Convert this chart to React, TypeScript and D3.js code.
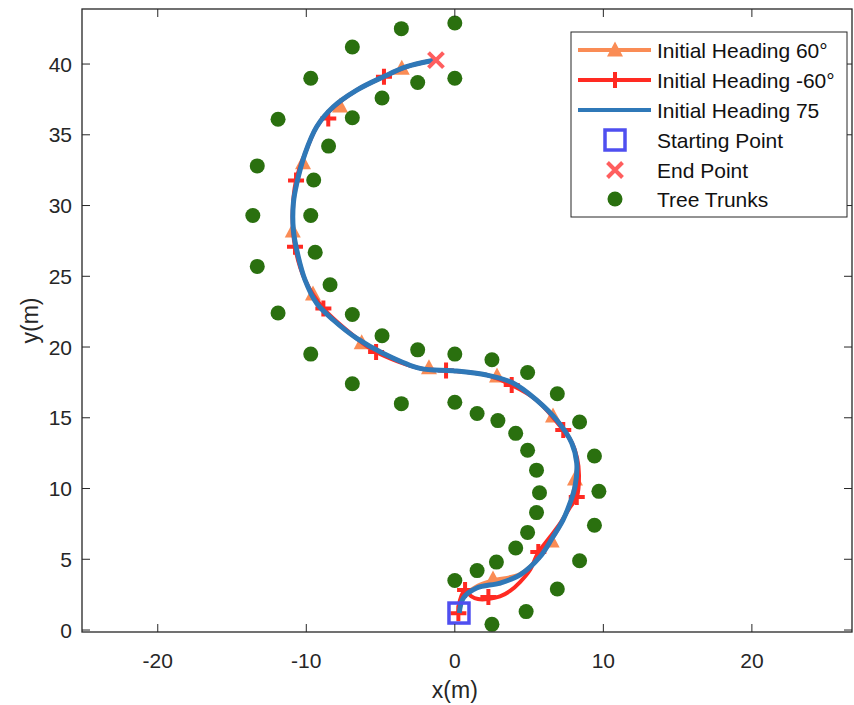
import React from "react";
import * as d3 from "d3";

type P = [number, number];

const blueHeading75: P[] = [
  [0.3, 1.2], [0.57, 2.26], [1.47, 2.97], [3.04, 3.32], [4.39, 3.89], [5.74, 5.18], [6.61, 6.59],
  [7.28, 7.77], [7.76, 8.98], [8.09, 10.13], [8.21, 11.8], [7.87, 13.22], [6.86, 14.84], [5.51, 16.25],
  [3.92, 17.46], [2.15, 18.02], [-0.12, 18.33], [-2.34, 18.49], [-4.81, 19.55], [-6.6, 20.61],
  [-8.18, 21.91], [-9.3, 23.09], [-10.08, 24.73], [-10.54, 26.38], [-10.87, 28.27], [-10.87, 30.16],
  [-10.64, 31.57], [-10.08, 33.69], [-9.3, 35.57], [-8.18, 36.98], [-6.6, 38.16], [-4.81, 39.1],
  [-3.24, 39.81], [-1.56, 40.23], [-1.27, 40.28],
];

const redHeadingMinus60: P[] = [
  [0.24, 1.2], [0.35, 2.12], [0.69, 2.83], [1.09, 2.4], [1.56, 2.19], [2.24, 2.19], [3.04, 2.37],
  [3.72, 2.76], [4.39, 3.39], [5.06, 4.24], [5.6, 5.44], [6.41, 6.57], [7.15, 7.63], [7.76, 8.69],
  [8.21, 9.4], [8.36, 10.95], [8.23, 12.16], [7.89, 13.22], [7.3, 14.13], [5.51, 16.25], [3.83, 17.31],
  [2.15, 18.02], [-0.59, 18.34], [-2.34, 18.49], [-5.3, 19.65], [-6.6, 20.61], [-8.85, 22.73],
  [-10.08, 24.73], [-10.76, 27.09], [-10.92, 29.33], [-10.69, 31.77], [-10.08, 33.69], [-9.3, 35.57],
  [-8.52, 36.6], [-6.6, 38.16], [-4.77, 39.1], [-3.24, 39.81], [-1.27, 40.28],
];
const redMarkers: P[] = [
  [0.24, 1.18], [0.69, 2.83], [2.26, 2.33], [5.62, 5.51], [8.21, 9.4], [7.3, 14.13], [3.83, 17.31],
  [-0.59, 18.34], [-5.3, 19.65], [-8.85, 22.73], [-10.76, 27.09], [-10.69, 31.77], [-8.52, 36.16],
  [-4.77, 39.1],
];

const orangeHeading60: P[] = [
  [0.3, 1.2], [0.55, 2.3], [1.4, 3.05], [2.57, 3.5], [4.39, 3.95], [5.74, 5.2], [6.61, 6.55],
  [7.28, 7.77], [7.76, 8.98], [8.09, 10.3], [8.21, 11.8], [7.87, 13.22], [6.86, 14.84], [5.51, 16.25],
  [3.92, 17.46], [2.15, 18.02], [-0.12, 18.33], [-2.34, 18.49], [-4.81, 19.55], [-6.6, 20.61],
  [-8.18, 21.91], [-9.3, 23.09], [-10.08, 24.73], [-10.54, 26.38], [-10.87, 28.27], [-10.87, 30.16],
  [-10.64, 31.57], [-10.08, 33.69], [-9.3, 35.57], [-8.18, 36.98], [-6.6, 38.16], [-4.81, 39.1],
  [-3.24, 39.81], [-1.56, 40.23], [-1.27, 40.28],
];
const orangeMarkers: P[] = [
  [2.57, 3.67], [6.52, 6.36], [8.09, 10.74], [6.61, 15.19], [2.84, 18.02], [-1.74, 18.61],
  [-6.27, 20.37], [-9.55, 23.82], [-10.91, 28.27], [-10.22, 33.1], [-7.73, 37.1], [-3.57, 39.77],
];

const startPoint: P = [0.28, 1.2];
const endPoint: P = [-1.27, 40.28];

const treeTrunks: P[] = [
  [0, 42.9], [-3.6, 42.5], [-6.9, 41.2], [-9.7, 39.0], [0, 39.0], [-2.5, 38.7], [-4.9, 37.6],
  [-11.9, 36.1], [-6.9, 36.2], [-8.5, 34.2], [-13.3, 32.8], [-9.5, 31.8], [-13.6, 29.3], [-9.7, 29.3],
  [-9.4, 26.7], [-13.3, 25.7], [-8.4, 24.4], [-11.9, 22.4], [-6.9, 22.3], [-4.9, 20.8], [-9.7, 19.5],
  [-2.5, 19.8], [0, 19.5], [2.5, 19.1], [-6.9, 17.4], [-3.6, 16.0], [4.9, 18.2], [6.9, 16.7],
  [8.4, 14.7], [9.4, 12.3], [9.7, 9.8], [9.4, 7.4], [8.4, 4.9], [6.9, 2.9], [4.8, 1.3], [2.5, 0.4],
  [0, 16.1], [1.5, 15.3], [2.9, 14.8], [4.1, 13.9], [4.9, 12.7], [5.5, 11.3], [5.7, 9.7], [5.5, 8.3],
  [4.9, 6.9], [4.1, 5.8], [2.8, 4.8], [1.5, 4.2], [0, 3.5],
];

const xTicks = [-20, -10, 0, 10, 20];
const yTicks = [0, 5, 10, 15, 20, 25, 30, 35, 40];
const legendLabels = [
  "Initial Heading 60°", "Initial Heading -60°", "Initial Heading 75",
  "Starting Point", "End Point", "Tree Trunks",
];

const C_ORANGE = "#FA8C55";
const C_RED = "#FF2A22";
const C_BLUE = "#2F78B8";
const C_SQUARE = "#4F4FF0";
const C_X = "#FF5E5E";
const C_GREEN = "#2A700F";
const C_AXIS = "#262626";
const FONT = "'Liberation Sans', Arial, sans-serif";

const L = 82, R = 852, T = 9, B = 632;

export default function App() {
  const x = d3.scaleLinear().domain([-25.1, 26.74]).range([L, R]);
  const y = d3.scaleLinear().domain([-0.14, 43.89]).range([B, T]);
  const line = d3.line<P>().x((d) => x(d[0])).y((d) => y(d[1])).curve(d3.curveCatmullRom.alpha(0.5));

  const tri = (cx: number, cy: number, k = 1) => {
    const w = 8 * k, h = 7.5 * k;
    return `M${cx},${cy - h}L${cx + w},${cy + h}L${cx - w},${cy + h}Z`;
  };
  const plus = (cx: number, cy: number, s = 8) => `M${cx - s},${cy}H${cx + s}M${cx},${cy - s}V${cy + s}`;
  const cross = (cx: number, cy: number, s = 7.5) =>
    `M${cx - s},${cy - s}L${cx + s},${cy + s}M${cx - s},${cy + s}L${cx + s},${cy - s}`;

  const legRows = [50, 80, 110, 140, 170, 199];
  const lx0 = 578, lx1 = 651, lmx = 615, ltx = 657;

  return (
    <svg width={854} height={705} style={{ position: "absolute", left: 0, top: 0, background: "#fff" }}
      fontFamily={FONT}>
      <rect x={0} y={0} width={854} height={705} fill="#fff" />
      <defs>
        <clipPath id="plotclip"><rect x={L} y={T} width={R - L} height={B - T} /></clipPath>
      </defs>
      <g clipPath="url(#plotclip)">
        <path d={line(orangeHeading60) || ""} fill="none" stroke={C_ORANGE} strokeWidth={4} />
        {orangeMarkers.map((d, i) => (
          <path key={"o" + i} d={tri(x(d[0]), y(d[1]))} fill={C_ORANGE} />
        ))}
        <path d={line(redHeadingMinus60) || ""} fill="none" stroke={C_RED} strokeWidth={4} />
        {redMarkers.map((d, i) => (
          <path key={"r" + i} d={plus(x(d[0]), y(d[1]))} stroke={C_RED} strokeWidth={4} fill="none" />
        ))}
        <path d={line(blueHeading75) || ""} fill="none" stroke={C_BLUE} strokeWidth={5} />
        <rect x={x(startPoint[0]) - 10} y={y(startPoint[1]) - 10} width={20} height={20} fill="none"
          stroke={C_SQUARE} strokeWidth={3.5} />
        <path d={cross(x(endPoint[0]), y(endPoint[1]))} stroke={C_X} strokeWidth={4} fill="none" />
        {treeTrunks.map((d, i) => (
          <circle key={"t" + i} cx={x(d[0])} cy={y(d[1])} r={7.5} fill={C_GREEN} />
        ))}
      </g>

      {/* axes box */}
      <rect x={L} y={T} width={R - L} height={B - T} fill="none" stroke={C_AXIS} strokeWidth={1.3} />
      {xTicks.map((t) => (
        <g key={"xt" + t}>
          <line x1={x(t)} x2={x(t)} y1={B} y2={B - 8} stroke={C_AXIS} strokeWidth={1} />
          <line x1={x(t)} x2={x(t)} y1={T} y2={T + 8} stroke={C_AXIS} strokeWidth={1} />
          <text x={x(t)} y={667.5} textAnchor="middle" fontSize={21} fill={C_AXIS}>{t}</text>
        </g>
      ))}
      {yTicks.map((t) => (
        <g key={"yt" + t}>
          <line x1={L} x2={L + 8} y1={y(t)} y2={y(t)} stroke={C_AXIS} strokeWidth={1} />
          <line x1={R} x2={R - 8} y1={y(t)} y2={y(t)} stroke={C_AXIS} strokeWidth={1} />
          <text x={L - 10} y={y(t)} dy="0.36em" textAnchor="end" fontSize={21} fill={C_AXIS}>{t}</text>
        </g>
      ))}
      <text x={x(0)} y={698} textAnchor="middle" fontSize={23} fill={C_AXIS}>x(m)</text>
      <text transform={`translate(38,${(T + B) / 2}) rotate(-90)`} textAnchor="middle" fontSize={23}
        fill={C_AXIS}>y(m)</text>

      {/* legend */}
      <rect x={571} y={32} width={276} height={185} fill="#fff" stroke={C_AXIS} strokeWidth={1} />
      <line x1={lx0} x2={lx1} y1={legRows[0]} y2={legRows[0]} stroke={C_ORANGE} strokeWidth={4} />
      <path d={tri(lmx, legRows[0] - 1)} fill={C_ORANGE} />
      <line x1={lx0} x2={lx1} y1={legRows[1]} y2={legRows[1]} stroke={C_RED} strokeWidth={4} />
      <path d={plus(lmx, legRows[1])} stroke={C_RED} strokeWidth={4} />
      <line x1={lx0} x2={lx1} y1={legRows[2]} y2={legRows[2]} stroke={C_BLUE} strokeWidth={4} />
      <rect x={lmx - 10} y={legRows[3] - 10} width={20} height={20} fill="none" stroke={C_SQUARE}
        strokeWidth={3.5} />
      <path d={cross(lmx, legRows[4])} stroke={C_X} strokeWidth={4} />
      <circle cx={lmx} cy={legRows[5]} r={7.5} fill={C_GREEN} />
      {legendLabels.map((s, i) => (
        <text key={"l" + i} x={ltx} y={legRows[i]} dy="0.36em" fontSize={21} fill="#111">{s}</text>
      ))}
    </svg>
  );
}
